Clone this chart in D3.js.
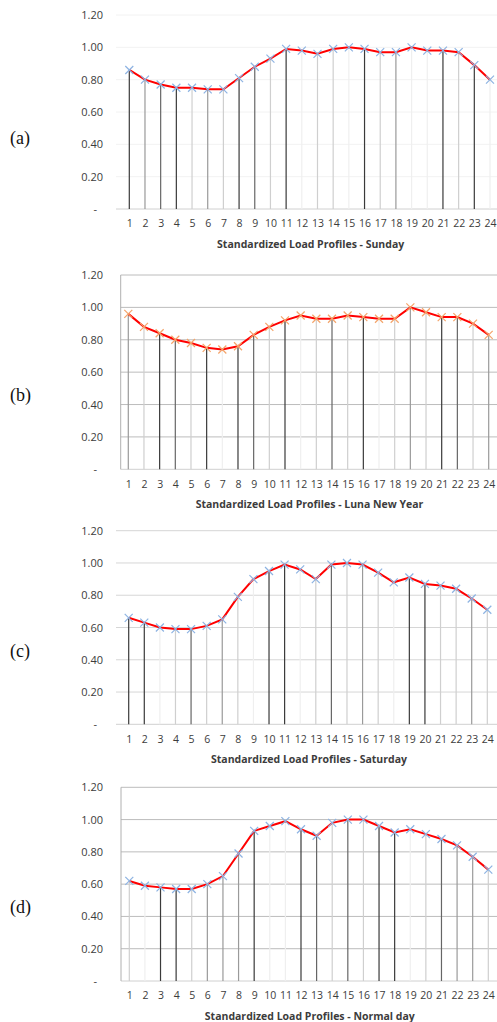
<!DOCTYPE html>
<head>
  <meta charset="utf-8">
  <script src="https://d3js.org/d3.v7.min.js"></script>
  <style>
    body { margin: 0; background: #fff; }
    svg { display: block; }
    .tick text { fill: #3c3c3c; }
  </style>
</head>

<body>
  <svg width="497" height="1022"></svg>
  <script>
    // hours 1..24
    var hours = d3.range(1, 25);
    var yTicks = [0, 0.2, 0.4, 0.6, 0.8, 1.0, 1.2];

    // values
    var sunday   = [0.86, 0.80, 0.77, 0.75, 0.75, 0.74, 0.74, 0.81, 0.88, 0.93, 0.99, 0.98,
                    0.96, 0.99, 1.00, 0.99, 0.97, 0.97, 1.00, 0.98, 0.98, 0.97, 0.89, 0.80];
    var lunaNY   = [0.96, 0.88, 0.84, 0.80, 0.78, 0.75, 0.74, 0.76, 0.83, 0.88, 0.92, 0.95,
                    0.93, 0.93, 0.95, 0.94, 0.93, 0.93, 1.00, 0.97, 0.94, 0.94, 0.90, 0.83];
    var saturday = [0.66, 0.63, 0.60, 0.59, 0.59, 0.61, 0.65, 0.79, 0.90, 0.95, 0.99, 0.96,
                    0.90, 0.99, 1.00, 0.99, 0.94, 0.88, 0.91, 0.87, 0.86, 0.84, 0.78, 0.71];
    var normal   = [0.62, 0.59, 0.58, 0.57, 0.57, 0.60, 0.65, 0.79, 0.93, 0.96, 0.99, 0.94,
                    0.90, 0.98, 1.00, 1.00, 0.96, 0.92, 0.94, 0.91, 0.88, 0.84, 0.77, 0.69];

    var titles = ['Standardized Load Profiles - Sunday',
                  'Standardized Load Profiles - Luna New Year',
                  'Standardized Load Profiles - Saturday',
                  'Standardized Load Profiles - Normal day'];
    var tags = ['(a)', '(b)', '(c)', '(d)'];

    // the scanned drop lines come in different greys
    var shade = {d: '#3a3a3a', k: '#666', m: '#9a9a9a', l: '#cfcfcf', n: '#efefef'};

    // layout of each panel (pixel positions)
    var panels = [
      {values: sunday,   top: 15,    zero: 209,   x1: 129.3, x24: 490,   grid: '#f2f2f2', gx0: 116, axis: false, mark: '#8db3e2', tagY: 138,
       drops: 'dmkdlmldkldnllndlmnndldn'},
      {values: lunaNY,   top: 275,   zero: 469.3, x1: 128.3, x24: 488.7, grid: '#bcbcbc', gx0: 120.7, axis: true, mark: '#f4a46a', tagY: 395,
       drops: 'mldkldndkldnlkldnlmldklm'},
      {values: saturday, top: 530.7, zero: 724.3, x1: 128.7, x24: 487.3, grid: '#d6d6d6', gx0: 116, axis: false, mark: '#8db3e2', tagY: 651,
       drops: 'ddnlklmlnddnlklmlnddllml'},
      {values: normal,   top: 787.3, zero: 981,   x1: 129.3, x24: 488.3, grid: '#bcbcbc', gx0: 121, axis: true, mark: '#8db3e2', tagY: 907,
       drops: 'lnddlmmmdnndklklddnlkmml'}
    ];

    var svg = d3.select('svg');

    panels.forEach(function(p, i) {
      var data = hours.map(function(h, j) { return {hour: h, value: p.values[j]}; });

      var x = d3.scaleLinear().domain([1, 24]).range([p.x1, p.x24]);
      var y = d3.scaleLinear().domain([0, 1.2]).range([p.zero, p.top]);

      var g = svg.append('g');

      // horizontal gridlines
      g.selectAll('.grid')
        .data(yTicks.slice(1))
        .enter().append('line')
        .attr('x1', p.gx0).attr('x2', 497)
        .attr('y1', function(d) { return y(d); })
        .attr('y2', function(d) { return y(d); })
        .attr('stroke', p.grid)
        .attr('stroke-width', 1);

      // baseline
      g.append('line')
        .attr('x1', p.gx0).attr('x2', 497)
        .attr('y1', y(0)).attr('y2', y(0))
        .attr('stroke', '#d0d0d0');

      if (p.axis) {
        g.append('line')
          .attr('x1', p.gx0).attr('x2', p.gx0)
          .attr('y1', y(1.2)).attr('y2', y(0))
          .attr('stroke', '#b0b0b0');
      }

      // drop lines from each point to the axis
      g.selectAll('.drop')
        .data(data)
        .enter().append('line')
        .attr('x1', function(d) { return x(d.hour); })
        .attr('x2', function(d) { return x(d.hour); })
        .attr('y1', function(d) { return y(d.value); })
        .attr('y2', y(0))
        .attr('stroke', function(d, j) { return shade[p.drops[j]]; })
        .attr('stroke-width', 1.2);

      // y axis
      var yAxis = d3.axisLeft(y)
        .tickValues(yTicks)
        .tickSize(0)
        .tickPadding(0)
        .tickFormat(function(d) { return d === 0 ? '-' : d.toFixed(2); });

      g.append('g')
        .attr('transform', 'translate(103,0)')
        .call(yAxis)
        .call(function(a) { a.select('.domain').remove(); })
        .selectAll('text')
        .attr('font-family', 'Open Sans, sans-serif')
        .attr('font-size', 11)
        .attr('dx', function(d) { return d === 0 ? -6 : 0; });

      // x axis
      var xAxis = d3.axisBottom(x)
        .tickValues(hours)
        .tickSize(0)
        .tickPadding(11);

      g.append('g')
        .attr('transform', 'translate(0,' + y(0) + ')')
        .call(xAxis)
        .call(function(a) { a.select('.domain').remove(); })
        .selectAll('text')
        .attr('font-family', 'Open Sans, sans-serif')
        .attr('font-size', 10.5);

      // title
      g.append('text')
        .attr('x', (p.x1 + p.x24) / 2 + 1)
        .attr('y', y(0) + 39)
        .attr('text-anchor', 'middle')
        .attr('font-family', 'Open Sans, sans-serif')
        .attr('font-weight', 'bold')
        .attr('font-size', 10.5)
        .attr('fill', '#3c3c3c')
        .text(titles[i]);

      // red line
      var line = d3.line()
        .x(function(d) { return x(d.hour); })
        .y(function(d) { return y(d.value); });

      g.append('path')
        .attr('d', line(data))
        .attr('fill', 'none')
        .attr('stroke', '#ff0000')
        .attr('stroke-width', 2);

      // x markers
      var s = 4;
      g.selectAll('.mk')
        .data(data)
        .enter().append('path')
        .attr('d', function(d) {
          var cx = x(d.hour), cy = y(d.value);
          return 'M' + (cx - s) + ',' + (cy - s) + 'L' + (cx + s) + ',' + (cy + s) +
                 'M' + (cx - s) + ',' + (cy + s) + 'L' + (cx + s) + ',' + (cy - s);
        })
        .attr('stroke', p.mark)
        .attr('stroke-width', 1.2)
        .attr('fill', 'none');

      // panel tag
      svg.append('text')
        .attr('x', 10)
        .attr('y', p.tagY)
        .attr('dy', '0.35em')
        .attr('font-family', 'Liberation Serif, serif')
        .attr('font-size', 18)
        .attr('fill', '#111')
        .text(tags[i]);
    });
  </script>
</body>
